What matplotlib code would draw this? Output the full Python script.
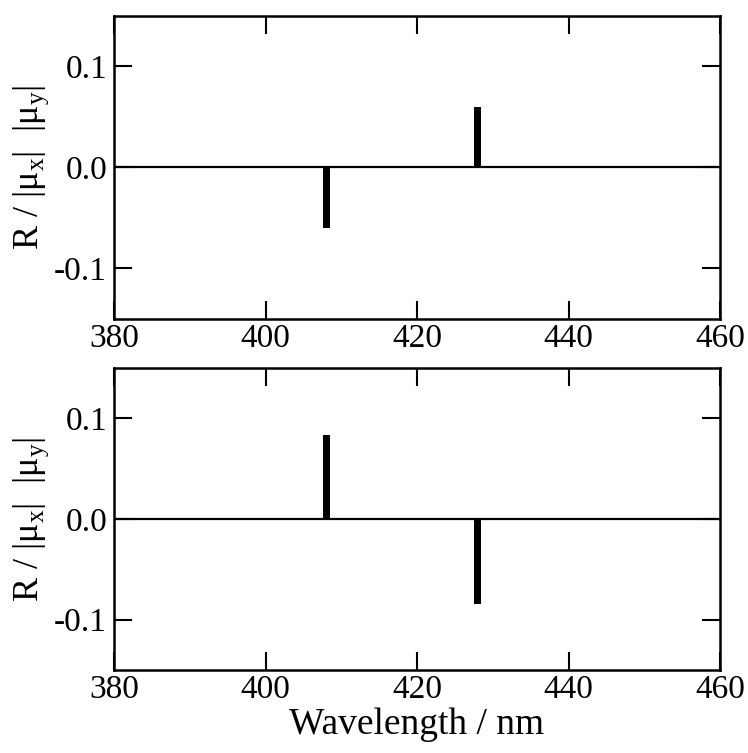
import matplotlib.pyplot as plt

plt.rcParams['font.family'] = 'Liberation Serif'
plt.rcParams['mathtext.fontset'] = 'custom'
plt.rcParams['mathtext.rm'] = 'Liberation Serif'

# positions of the lines (nm) and rotatory strengths for both panels
wl = [408, 428]
r_top = [-0.060, 0.060]
r_bottom = [0.083, -0.084]

xticks = [380, 400, 420, 440, 460]
yticks = [-0.1, 0.0, 0.1]
ylab = 'R / |μ$_\\mathrm{x}$|  |μ$_\\mathrm{y}$|'

fig = plt.figure(figsize=(7.48, 7.53), dpi=100)
ax1 = fig.add_axes([0.1524, 0.5764, 0.8102, 0.4024])
ax2 = fig.add_axes([0.1524, 0.1102, 0.8102, 0.4011])

for ax, r in [(ax1, r_top), (ax2, r_bottom)]:
    ax.axhline(0, color='black', lw=1.6)
    ax.bar(wl, r, width=0.95, color='black')
    ax.set_xlim(380, 460)
    ax.set_ylim(-0.15, 0.15)
    ax.set_xticks(xticks)
    ax.set_yticks(yticks)
    ax.set_yticklabels(['-0.1', '0.0', '0.1'])
    ax.tick_params(direction='in', length=13, width=1.5, labelsize=24,
                   top=True, right=True)
    ax.tick_params(axis='x', pad=3)
    ax.tick_params(axis='y', pad=5)
    for s in ax.spines.values():
        s.set_linewidth(1.8)
    ax.set_ylabel(ylab, fontsize=26, labelpad=2)

ax2.set_xlabel('Wavelength / nm', fontsize=27, labelpad=2)

fig.savefig('out.png', dpi=100)
